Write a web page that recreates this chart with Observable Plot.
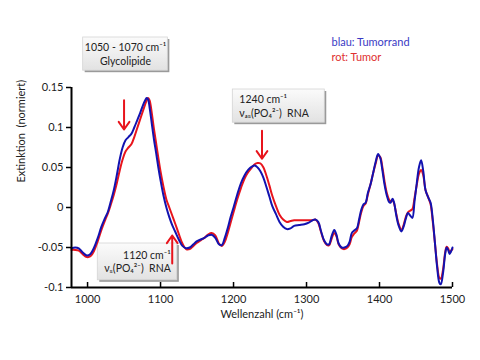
<!DOCTYPE html>
<html>
<head>
<meta charset="utf-8">
<script src="https://cdn.jsdelivr.net/npm/d3@7"></script>
<script src="https://cdn.jsdelivr.net/npm/@observablehq/plot@0.6"></script>
<style>
  html, body { margin: 0; padding: 0; background: #fff; }
  svg { display: block; }
</style>
</head>
<body>
<div id="chart"></div>
<script>
// ---- data ----
const wellenzahl = [978,983,988,993,999,1004,1009,1014,1019,1024,1028,1032,1036,1040,1044,1048,1052,1056,1060,1064,1068,1072,1076,1079,1081,1083,1085,1088,1091,1094,1097,1100,1104,1108,1112,1116,1120,1125,1130,1135,1140,1145,1150,1155,1160,1165,1170,1175,1180,1184,1188,1192,1196,1200,1205,1210,1215,1220,1225,1229,1233,1237,1241,1245,1249,1253,1258,1263,1268,1273,1278,1283,1290,1297,1303,1308,1312,1316,1320,1324,1328,1331,1334,1338,1341,1344,1348,1352,1356,1359,1362,1365,1369,1372,1375,1378,1381,1384,1388,1391,1395,1398,1401,1404,1407,1410,1413,1415,1418,1420,1423,1426,1430,1433,1436,1439,1442,1445,1448,1451,1454,1457,1460,1463,1467,1470,1473,1476,1479,1482,1484,1487,1490,1492,1494,1496,1498,1500];
const blau = [-0.051,-0.050,-0.051,-0.056,-0.060,-0.058,-0.050,-0.038,-0.024,-0.013,-0.005,0.008,0.022,0.040,0.060,0.075,0.084,0.088,0.092,0.100,0.109,0.118,0.128,0.134,0.137,0.135,0.125,0.105,0.085,0.068,0.050,0.034,0.015,0.000,-0.012,-0.022,-0.030,-0.040,-0.048,-0.051,-0.050,-0.046,-0.042,-0.040,-0.038,-0.035,-0.034,-0.038,-0.046,-0.047,-0.038,-0.026,-0.012,0.000,0.016,0.030,0.040,0.047,0.051,0.0525,0.050,0.045,0.037,0.026,0.014,0.002,-0.008,-0.018,-0.024,-0.027,-0.026,-0.023,-0.022,-0.021,-0.019,-0.016,-0.015,-0.018,-0.030,-0.041,-0.046,-0.046,-0.037,-0.028,-0.034,-0.045,-0.050,-0.050,-0.048,-0.043,-0.032,-0.029,-0.026,-0.015,-0.003,0.004,0.006,0.018,0.030,0.042,0.058,0.067,0.062,0.046,0.028,0.015,0.007,0.006,0.011,0.006,-0.010,-0.022,-0.030,-0.024,-0.014,-0.007,-0.010,-0.013,0.008,0.030,0.050,0.059,0.045,0.022,0.012,0.006,-0.015,-0.045,-0.075,-0.094,-0.096,-0.082,-0.058,-0.050,-0.053,-0.058,-0.055,-0.050];
const rot = [-0.053,-0.053,-0.054,-0.058,-0.062,-0.061,-0.054,-0.042,-0.028,-0.016,-0.007,0.004,0.016,0.030,0.046,0.060,0.070,0.075,0.079,0.088,0.099,0.110,0.121,0.129,0.134,0.137,0.134,0.118,0.098,0.080,0.062,0.045,0.026,0.010,0.000,-0.010,-0.020,-0.033,-0.045,-0.052,-0.052,-0.048,-0.044,-0.041,-0.038,-0.034,-0.032,-0.035,-0.045,-0.048,-0.043,-0.032,-0.019,-0.006,0.010,0.024,0.036,0.044,0.050,0.054,0.0555,0.055,0.050,0.040,0.028,0.015,0.002,-0.009,-0.015,-0.018,-0.017,-0.016,-0.016,-0.016,-0.016,-0.016,-0.015,-0.019,-0.031,-0.042,-0.047,-0.047,-0.040,-0.032,-0.036,-0.046,-0.051,-0.052,-0.050,-0.046,-0.037,-0.033,-0.029,-0.018,-0.006,0.002,0.005,0.016,0.030,0.042,0.056,0.065,0.063,0.050,0.032,0.018,0.010,0.008,0.009,0.005,-0.008,-0.020,-0.028,-0.022,-0.012,-0.006,-0.004,-0.002,0.012,0.028,0.042,0.047,0.040,0.022,0.012,0.004,-0.018,-0.045,-0.072,-0.088,-0.089,-0.078,-0.056,-0.049,-0.051,-0.056,-0.054,-0.052];

const xTicks = [1000, 1100, 1200, 1300, 1400, 1500];
const xTickLabels = ["1000", "1100", "1200", "1300", "1400", "1500"];
const yTicks = [-0.1, -0.05, 0, 0.05, 0.1, 0.15];
const yTickLabels = ["-0.1", "-0.05", "0", "0.05", "0.1", "0.15"];
const xTitle = "Wellenzahl (cm\u207B\u00B9)";
const yTitle = "Extinktion  (normiert)";
const legendLabels = ["blau: Tumorrand", "rot: Tumor"];

// annotations (in data units: wavenumber, extinction)
const annoText = ["1050 - 1070 cm\u207B\u00B9\nGlycolipide", "1240 cm\u207B\u00B9\n\u03BD\u2090\u209B(PO\u2084\u00B2\u207B)  RNA", "1120 cm\u207B\u00B9\n\u03BD\u209B(PO\u2084\u00B2\u207B)  RNA"];
const annoBoxX1 = [994, 1199, 1014];
const annoBoxX2 = [1110, 1325, 1123];
const annoBoxY1 = [0.171, 0.106, -0.091];
const annoBoxY2 = [0.2125, 0.1475, -0.045];
const annoTextX = [1052, 1208, 1114];
const annoTextY = [0.192, 0.127, -0.067];
const annoAlign = ["middle", "start", "end"];
const arrowX = [1050, 1239, 1116];
const arrowFrom = [0.134, 0.096, -0.070];
const arrowTo = [0.0975, 0.061, -0.035];

const blue = "#1212b0";
const red = "#e8141c";

const spektrumRot = wellenzahl.map((w, i) => ({w, v: rot[i]}));
const spektrumBlau = wellenzahl.map((w, i) => ({w, v: blau[i]}));
const annos = annoText.map((text, i) => ({
  text, x1: annoBoxX1[i], x2: annoBoxX2[i], y1: annoBoxY1[i], y2: annoBoxY2[i],
  tx: annoTextX[i], ty: annoTextY[i], anchor: annoAlign[i]
}));
const arrows = arrowX.map((x, i) => ({x, y1: arrowFrom[i], y2: arrowTo[i]}));

const font = "Lato, 'Open Sans', sans-serif";

const svg = Plot.plot({
  width: 480,
  height: 360,
  marginLeft: 71,
  marginRight: 28,
  marginTop: 87,
  marginBottom: 73,
  style: {fontFamily: font, fontSize: "11px", color: "#222", background: "#fff", overflow: "visible"},
  x: {domain: [978, 1500]},
  y: {domain: [-0.1, 0.15]},
  marks: [
    // annotation boxes
    Plot.rect(annos, {x1: "x1", x2: "x2", y1: "y1", y2: "y2", fill: "#9a9a9a", dx: 2, dy: 2, ariaLabel: "shadow"}),
    Plot.rect(annos, {x1: "x1", x2: "x2", y1: "y1", y2: "y2", fill: "url(#boxgrad)", stroke: "#d4d4d4", strokeWidth: 0.8, ariaLabel: "annobox"}),
    // curves
    Plot.line(spektrumRot, {x: "w", y: "v", stroke: red, strokeWidth: 2, curve: "catmull-rom"}),
    Plot.line(spektrumBlau, {x: "w", y: "v", stroke: blue, strokeWidth: 2, curve: "catmull-rom"}),
    // axes
    Plot.axisY(yTicks, {tickSize: 5, tickPadding: 3, tickFormat: d => yTickLabels[yTicks.indexOf(d)], label: null, fontSize: 11, stroke: "#000", strokeWidth: 1.5, fill: "#222"}),
    Plot.axisX(xTicks, {tickSize: 0, tickPadding: 8, tickFormat: d => xTickLabels[xTicks.indexOf(d)], label: null, fontSize: 11, fill: "#222"}),
    Plot.tickX(xTicks, {x: d => d, insetTop: 195, stroke: "#000", strokeWidth: 1.5}),
    Plot.ruleX([978], {stroke: "#000", strokeWidth: 2}),
    Plot.ruleY([-0.1], {stroke: "#000", strokeWidth: 2}),
    // axis titles
    Plot.text([yTitle], {frameAnchor: "left", rotate: -90, dx: -50, dy: -5, fontSize: 11, fill: "#222"}),
    Plot.text([xTitle], {frameAnchor: "bottom", dy: 30, fontSize: 11, fill: "#222"}),
    // legend
    Plot.text([legendLabels[0]], {frameAnchor: "top-left", dx: 260, dy: -49, textAnchor: "start", fill: "#3a3ac4", fontSize: 11}),
    Plot.text([legendLabels[1]], {frameAnchor: "top-left", dx: 260, dy: -34, textAnchor: "start", fill: "#e03030", fontSize: 11}),
    // annotation texts
    Plot.text(annos.filter(d => d.anchor === "middle"), {x: "tx", y: "ty", text: "text", textAnchor: "middle", lineHeight: 1.3, fontSize: 10.5, fill: "#222"}),
    Plot.text(annos.filter(d => d.anchor === "start"), {x: "tx", y: "ty", text: "text", textAnchor: "start", lineHeight: 1.3, fontSize: 10.5, fill: "#222"}),
    Plot.text(annos.filter(d => d.anchor === "end"), {x: "tx", y: "ty", text: "text", textAnchor: "end", lineHeight: 1.3, fontSize: 10.5, fill: "#222"}),
    // arrows
    Plot.arrow(arrows, {x: "x", y1: "y1", y2: "y2", stroke: red, strokeWidth: 2, headLength: 7, headAngle: 70})
  ]
});

const defs = d3.select(svg).insert("defs", ":first-child");
defs.html(`
  <linearGradient id="boxgrad" x1="0" y1="0" x2="0" y2="1">
    <stop offset="0" stop-color="#fbfbfb"/>
    <stop offset="1" stop-color="#e2e2e2"/>
  </linearGradient>
  <filter id="blur" x="-20%" y="-20%" width="140%" height="140%">
    <feGaussianBlur stdDeviation="1.5"/>
  </filter>`);
d3.select(svg).selectAll('g[aria-label="shadow"]').attr("filter", "url(#blur)").attr("opacity", 0.7);

document.getElementById("chart").appendChild(svg);
</script>
</body>
</html>
